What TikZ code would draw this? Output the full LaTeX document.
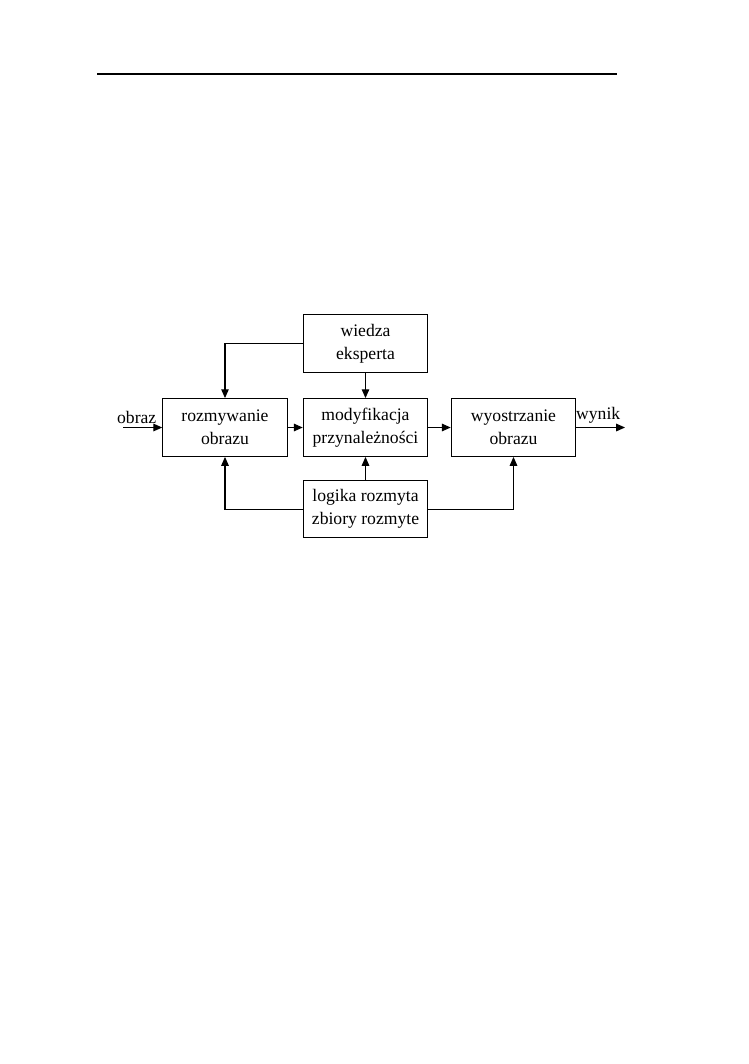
\documentclass[tikz,border=0pt]{standalone}
\usepackage{fontspec}
\setmainfont{Liberation Serif}
\usetikzlibrary{arrows.meta}
\tikzset{
    blok/.style={draw, line width=0.8pt, minimum width=99pt, minimum height=46pt,
        align=center, inner sep=2pt, font=\fontsize{14}{18}\selectfont},
    strz/.style={line width=0.8pt, -{Triangle[length=7pt,width=6pt]}},
    etyk/.style={font=\fontsize{14}{16}\selectfont, inner sep=1pt}
}
\begin{document}
\begin{tikzpicture}[x=0.7948pt, y=-0.7948pt]
        \useasboundingbox (0,0) rectangle (749,1064);
        % page header rule
        \draw[line width=1.2pt] (97,74) -- (617,74);

        % blocks
        \node[blok] (wiedza) at (365.5,343.5) {wiedza\\eksperta};
        \node[blok] (rozmyw) at (225,427.5) {rozmywanie\\obrazu};
        \node[blok] (modyf) at (365.5,427.5) {modyfikacja\\przynależności};
        \node[blok] (wyostrz) at (513.5,427.5) {wyostrzanie\\obrazu};
        \node[blok] (logika) at (365.5,509) {logika rozmyta\\zbiory rozmyte};

        % input and output
        \coordinate (wej) at (123,427.5);
        \coordinate (wyj) at (625,427.5);
        \draw[strz] (wej) -- (rozmyw.west) node[etyk, pos=0.35, above=2pt] {obraz};
        \draw[strz] (wyostrz.east) -- (wyj) node[etyk, pos=0.45, above=2pt] {wynik};

        % connections
        \draw[strz] (wiedza.west) -| (rozmyw.north);
        \draw[strz] (wiedza) -- (modyf);
        \draw[strz] (rozmyw) -- (modyf);
        \draw[strz] (modyf) -- (wyostrz);
        \draw[strz] (logika.west) -| (rozmyw.south);
        \draw[strz] (logika) -- (modyf);
        \draw[strz] (logika.east) -| (wyostrz.south);
\end{tikzpicture}
\end{document}
